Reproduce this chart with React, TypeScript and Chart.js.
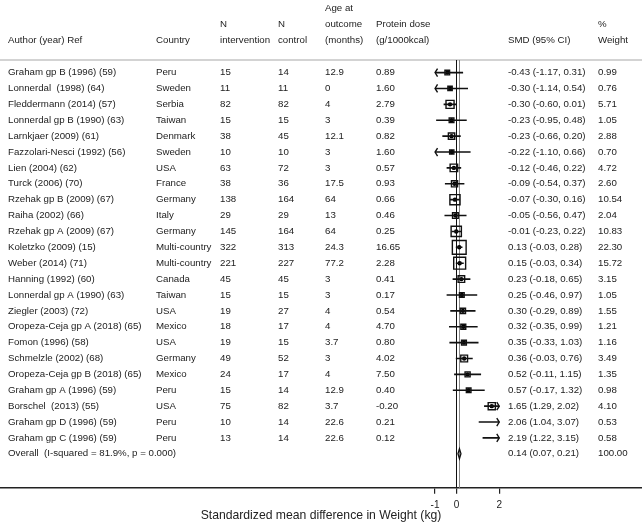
import React, { useEffect, useRef } from 'react';
import { Chart, registerables } from 'chart.js';

Chart.register(...registerables);

const authors = [
  'Graham gp B (1996) (59)',
  'Lonnerdal  (1998) (64)',
  'Fleddermann (2014) (57)',
  'Lonnerdal gp B (1990) (63)',
  'Larnkjaer (2009) (61)',
  'Fazzolari-Nesci (1992) (56)',
  'Lien (2004) (62)',
  'Turck (2006) (70)',
  'Rzehak gp B (2009) (67)',
  'Raiha (2002) (66)',
  'Rzehak gp A (2009) (67)',
  'Koletzko (2009) (15)',
  'Weber (2014) (71)',
  'Hanning (1992) (60)',
  'Lonnerdal gp A (1990) (63)',
  'Ziegler (2003) (72)',
  'Oropeza-Ceja gp A (2018) (65)',
  'Fomon (1996) (58)',
  'Schmelzle (2002) (68)',
  'Oropeza-Ceja gp B (2018) (65)',
  'Graham gp A (1996) (59)',
  'Borschel  (2013) (55)',
  'Graham gp D (1996) (59)',
  'Graham gp C (1996) (59)',
];
const countries = [
  'Peru', 'Sweden', 'Serbia', 'Taiwan', 'Denmark', 'Sweden', 'USA', 'France',
  'Germany', 'Italy', 'Germany', 'Multi-country', 'Multi-country', 'Canada',
  'Taiwan', 'USA', 'Mexico', 'USA', 'Germany', 'Mexico', 'Peru', 'USA', 'Peru', 'Peru',
];
const nIntervention = [15, 11, 82, 15, 38, 10, 63, 38, 138, 29, 145, 322, 221, 45, 15, 19, 18, 19, 49, 24, 15, 75, 10, 13];
const nControl = [14, 11, 82, 15, 45, 10, 72, 36, 164, 29, 164, 313, 227, 45, 15, 27, 17, 15, 52, 17, 14, 82, 14, 14];
const ageOutcome = [12.9, 0, 4, 3, 12.1, 3, 3, 17.5, 64, 13, 64, 24.3, 77.2, 3, 3, 4, 4, 3.7, 3, 4, 12.9, 3.7, 22.6, 22.6];
const proteinDose = [0.89, 1.6, 2.79, 0.39, 0.82, 1.6, 0.57, 0.93, 0.66, 0.46, 0.25, 16.65, 2.28, 0.41, 0.17, 0.54, 4.7, 0.8, 4.02, 7.5, 0.4, -0.2, 0.21, 0.12];
const smd = [-0.43, -0.3, -0.3, -0.23, -0.23, -0.22, -0.12, -0.09, -0.07, -0.05, -0.01, 0.13, 0.15, 0.23, 0.25, 0.3, 0.32, 0.35, 0.36, 0.52, 0.57, 1.65, 2.06, 2.19];
const ciLower = [-1.17, -1.14, -0.6, -0.95, -0.66, -1.1, -0.46, -0.54, -0.3, -0.56, -0.23, -0.03, -0.03, -0.18, -0.46, -0.29, -0.35, -0.33, -0.03, -0.11, -0.17, 1.29, 1.04, 1.22];
const ciUpper = [0.31, 0.54, 0.01, 0.48, 0.2, 0.66, 0.22, 0.37, 0.16, 0.47, 0.22, 0.28, 0.34, 0.65, 0.97, 0.89, 0.99, 1.03, 0.76, 1.15, 1.32, 2.02, 3.07, 3.15];
const weights = [0.99, 0.76, 5.71, 1.05, 2.88, 0.7, 4.72, 2.6, 10.54, 2.04, 10.83, 22.3, 15.72, 3.15, 1.05, 1.55, 1.21, 1.16, 3.49, 1.35, 0.98, 4.1, 0.53, 0.58];

const overallLabel = 'Overall  (I-squared = 81.9%, p = 0.000)';
const overallSmd = 0.14;
const overallLower = 0.07;
const overallUpper = 0.21;
const overallWeight = 100.0;

const xTicks = [-1, 0, 2];
const plotRange = [-1, 2];
const xTitle = 'Standardized mean difference in Weight (kg)';

const FONT = '"Liberation Sans", Arial, sans-serif';
const TEXT = '#222';

const f2 = (v: number) => v.toFixed(2);

const forestPlugin = {
  id: 'forest',
  beforeDatasetsDraw(chart: any) {
    const { ctx, scales } = chart;
    const x = scales.x;
    const bottom = chart.chartArea.bottom;
    const top = 60;
    ctx.save();
    ctx.strokeStyle = '#a8a8a8';
    ctx.lineWidth = 1.2;
    ctx.beginPath();
    ctx.moveTo(0, top);
    ctx.lineTo(chart.width, top);
    ctx.stroke();
    // overall effect line
    ctx.strokeStyle = '#8a8a8a';
    ctx.lineWidth = 1;
    const xo = Math.round(x.getPixelForValue(overallSmd)) + 0.5;
    ctx.beginPath();
    ctx.moveTo(xo, top);
    ctx.lineTo(xo, bottom);
    ctx.stroke();
    // null line
    ctx.strokeStyle = '#111';
    const x0 = Math.round(x.getPixelForValue(0)) + 0.5;
    ctx.beginPath();
    ctx.moveTo(x0, top);
    ctx.lineTo(x0, bottom);
    ctx.stroke();
    ctx.restore();
  },
  afterDatasetsDraw(chart: any) {
    const { ctx, scales } = chart;
    const x = scales.x;
    const y = scales.y;
    ctx.save();
    ctx.strokeStyle = '#111';
    ctx.lineWidth = 1.4;
    for (let i = 0; i < smd.length; i++) {
      const py = y.getPixelForValue(i);
      if (ciLower[i] < plotRange[0]) {
        const px = x.getPixelForValue(plotRange[0]);
        ctx.beginPath();
        ctx.moveTo(px + 2.5, py - 4);
        ctx.lineTo(px, py);
        ctx.lineTo(px + 2.5, py + 4);
        ctx.stroke();
      }
      if (ciUpper[i] > plotRange[1]) {
        const px = x.getPixelForValue(plotRange[1]);
        ctx.beginPath();
        ctx.moveTo(px - 2.5, py - 4);
        ctx.lineTo(px, py);
        ctx.lineTo(px - 2.5, py + 4);
        ctx.stroke();
      }
    }
    // overall diamond
    const dy = y.getPixelForValue(smd.length);
    ctx.lineWidth = 1.3;
    ctx.beginPath();
    ctx.moveTo(x.getPixelForValue(overallLower), dy);
    ctx.lineTo(x.getPixelForValue(overallSmd), dy - 5);
    ctx.lineTo(x.getPixelForValue(overallUpper), dy);
    ctx.lineTo(x.getPixelForValue(overallSmd), dy + 5);
    ctx.closePath();
    ctx.stroke();
    ctx.restore();
  },
  afterDraw(chart: any) {
    const { ctx, scales } = chart;
    const y = scales.y;
    const cols = { author: 8, country: 156, nInt: 220, nCtl: 278, age: 325, protein: 376, smd: 508, weight: 598 };
    ctx.save();
    ctx.fillStyle = TEXT;
    ctx.font = `9.7px ${FONT}`;
    ctx.textAlign = 'left';
    ctx.textBaseline = 'middle';
    const h1 = 8, h2 = 24.5, h3 = 40;
    ctx.fillText('Age at', cols.age, h1);
    ctx.fillText('N', cols.nInt, h2);
    ctx.fillText('N', cols.nCtl, h2);
    ctx.fillText('outcome', cols.age, h2);
    ctx.fillText('Protein dose', cols.protein, h2);
    ctx.fillText('%', cols.weight, h2);
    ctx.fillText('Author (year) Ref', cols.author, h3);
    ctx.fillText('Country', cols.country, h3);
    ctx.fillText('intervention', cols.nInt, h3);
    ctx.fillText('control', cols.nCtl, h3);
    ctx.fillText('(months)', cols.age, h3);
    ctx.fillText('(g/1000kcal)', cols.protein, h3);
    ctx.fillText('SMD (95% CI)', cols.smd, h3);
    ctx.fillText('Weight', cols.weight, h3);
    for (let i = 0; i < authors.length; i++) {
      const py = y.getPixelForValue(i);
      ctx.fillText(authors[i], cols.author, py);
      ctx.fillText(countries[i], cols.country, py);
      ctx.fillText(String(nIntervention[i]), cols.nInt, py);
      ctx.fillText(String(nControl[i]), cols.nCtl, py);
      ctx.fillText(String(ageOutcome[i]), cols.age, py);
      ctx.fillText(f2(proteinDose[i]), cols.protein, py);
      ctx.fillText(`${f2(smd[i])} (${f2(ciLower[i])}, ${f2(ciUpper[i])})`, cols.smd, py);
      ctx.fillText(f2(weights[i]), cols.weight, py);
    }
    const oy = y.getPixelForValue(authors.length);
    ctx.fillText(overallLabel, cols.author, oy);
    ctx.fillText(`${f2(overallSmd)} (${f2(overallLower)}, ${f2(overallUpper)})`, cols.smd, oy);
    ctx.fillText(f2(overallWeight), cols.weight, oy);
    ctx.restore();
  },
};

export default function App() {
  const ref = useRef<HTMLCanvasElement | null>(null);
  useEffect(() => {
    document.body.style.margin = '0';
    const canvas = ref.current;
    if (!canvas) return;
    const inRange = (v: number) => v >= plotRange[0] && v <= plotRange[1];
    const ciData: any[] = [];
    smd.forEach((_, i) => {
      ciData.push({ x: Math.max(ciLower[i], plotRange[0]), y: i });
      ciData.push({ x: Math.min(ciUpper[i], plotRange[1]), y: i });
      ciData.push({ x: 0, y: null });
    });
    const idx = smd.map((_, i) => i).filter((i) => inRange(smd[i]));
    const boxData = idx.map((i) => ({ x: smd[i], y: i }));
    const boxRadius = idx.map((i) => (2.45 * Math.sqrt(weights[i]) + 2.2) / Math.SQRT2);
    const chart = new Chart(canvas, {
      type: 'scatter',
      data: {
        datasets: [
          {
            data: ciData,
            showLine: true,
            spanGaps: false,
            pointRadius: 0,
            borderColor: '#111',
            borderWidth: 1.6,
          } as any,
          {
            data: boxData,
            pointStyle: 'rect',
            pointRadius: boxRadius,
            borderColor: '#111',
            backgroundColor: 'rgba(0,0,0,0)',
            borderWidth: 1.4,
          } as any,
          {
            data: boxData,
            pointStyle: 'circle',
            pointRadius: 2.2,
            borderWidth: 0,
            backgroundColor: '#000',
          } as any,
        ],
      },
      options: {
        animation: false,
        responsive: false,
        events: [],
        layout: { padding: 0, autoPadding: false },
        plugins: { legend: { display: false }, tooltip: { enabled: false } },
        scales: {
          x: {
            type: 'linear',
            min: -21.33,
            max: 8.67,
            afterBuildTicks: (s: any) => {
              s.ticks = xTicks.map((v) => ({ value: v }));
            },
            grid: { display: true, drawOnChartArea: false, drawTicks: true, tickLength: 6, color: '#222', lineWidth: 1.2 },
            border: { display: true, color: '#222', width: 1.5 },
            ticks: {
              padding: 5,
              autoSkip: false,
              maxRotation: 0,
              color: TEXT,
              font: { family: FONT, size: 10 },
              callback: (v: any) => String(v),
            },
            title: {
              display: true,
              text: xTitle,
              color: TEXT,
              font: { family: FONT, size: 12.2, lineHeight: 1 },
              padding: { top: -6, bottom: 0 },
            },
          },
          y: { type: 'linear', display: false, reverse: true, min: -4.57, max: 26.14 },
        },
      } as any,
      plugins: [forestPlugin],
    });
    return () => chart.destroy();
  }, []);
  return <canvas ref={ref} width={642} height={522} style={{ display: 'block' }} />;
}
